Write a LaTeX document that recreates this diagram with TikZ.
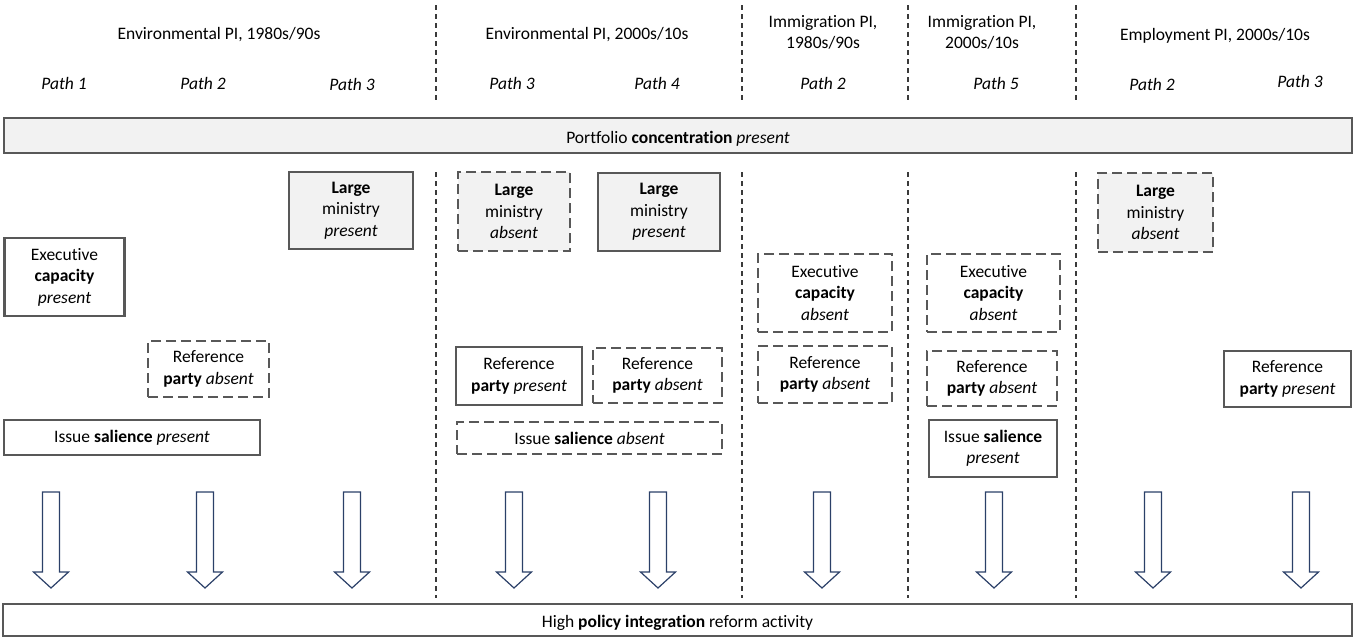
\documentclass[tikz,border=0pt]{standalone}
\usepackage{fontspec}
\setmainfont{Carlito}[Ligatures=NoCommon]
\definecolor{boxgray}{HTML}{585858}
\definecolor{fillgray}{HTML}{F2F2F2}
\definecolor{sepgray}{HTML}{3A3A3A}
\definecolor{arrownavy}{HTML}{2B4068}
\newcommand{\barline}[1]{\raisebox{-3.5pt}[12pt][4pt]{#1}}
\begin{document}
\begin{tikzpicture}[x=1pt,y=-1pt,
  every node/.style={font=\fontsize{17.5}{21.5}\selectfont, align=center, inner sep=0pt, text=black},
  solidbox/.style={draw=boxgray, line width=2.9pt, fill=white},
  dashbox/.style={draw=boxgray, line width=2.9pt, fill=white, dash pattern=on 10pt off 5pt},
  shaded/.style={fill=fillgray},
  separator/.style={draw=sepgray, line width=1.4pt, dash pattern=on 5pt off 4pt},
  blockarrow/.style={draw=arrownavy, line width=1.2pt, fill=white, line join=miter}]
\useasboundingbox (0,0) rectangle (1354,637);
\clip (0,0) rectangle (1354,637);

% group headings
\node (hEnvA) at (219,34.5) {Environmental PI, 1980s/90s};
\node (hEnvB) at (587,34.5) {Environmental PI, 2000s/10s};
\node (hImmA) at (823,32.5) {Immigration PI,\\1980s/90s};
\node (hImmB) at (982,32.5) {Immigration PI,\\2000s/10s};
\node (hEmp)  at (1215,35.5) {Employment PI, 2000s/10s};

% path labels
\node (p1) at (64,83)   {\itshape Path 1};
\node (p2) at (203,83)  {\itshape Path 2};
\node (p3) at (352,84)  {\itshape Path 3};
\node (p4) at (512,83)  {\itshape Path 3};
\node (p5) at (657,83)  {\itshape Path 4};
\node (p6) at (823,83)  {\itshape Path 2};
\node (p7) at (996,83)  {\itshape Path 5};
\node (p8) at (1152,84) {\itshape Path 2};
\node (p9) at (1300,81) {\itshape Path 3};

% column separators
\foreach \sx in {436,742,908,1076} {
  \draw[separator] (\sx,5) -- (\sx,100);
  \draw[separator] (\sx,172) -- (\sx,598);
}

% shared condition bar
\node[solidbox, shaded, minimum width=1348, minimum height=35] (conc) at (678,135.5)
  {\barline{Portfolio \textbf{concentration} \textit{present}}};

% Environmental PI, 1980s/90s
\node[solidbox, shaded, minimum width=124, minimum height=77] (lm1) at (351,210.5)
  {\textbf{Large}\\ministry\\\textit{present}};
\node[solidbox, minimum width=120, minimum height=78] (ec1) at (64.5,277)
  {Executive\\\textbf{capacity}\\\textit{present}};
\node[dashbox, minimum width=121, minimum height=56] (rp1) at (208.5,369)
  {Reference\\\textbf{party} \textit{absent}};
\node[solidbox, minimum width=256, minimum height=35] (is1) at (132,437.5)
  {Issue \textbf{salience} \textit{present}};

% Environmental PI, 2000s/10s
\node[dashbox, shaded, minimum width=112, minimum height=79] (lm2) at (514,211.5)
  {\textbf{Large}\\ministry\\\textit{absent}};
\node[solidbox, shaded, minimum width=122, minimum height=78] (lm3) at (659,212)
  {\textbf{Large}\\ministry\\\textit{present}};
\node[solidbox, minimum width=126, minimum height=58] (rp2) at (519,376)
  {Reference\\\textbf{party} \textit{present}};
\node[dashbox, minimum width=129, minimum height=55] (rp3) at (657.5,375.5)
  {Reference\\\textbf{party} \textit{absent}};
\node[dashbox, minimum width=265, minimum height=32] (is2) at (589.5,438)
  {Issue \textbf{salience} \textit{absent}};

% Immigration PI, 1980s/90s
\node[dashbox, minimum width=134, minimum height=78] (ec2) at (825,293)
  {Executive\\\textbf{capacity}\\\textit{absent}};
\node[dashbox, minimum width=134, minimum height=57] (rp4) at (825,374.5)
  {Reference\\\textbf{party} \textit{absent}};

% Immigration PI, 2000s/10s
\node[dashbox, minimum width=133, minimum height=78] (ec3) at (993.5,293)
  {Executive\\\textbf{capacity}\\\textit{absent}};
\node[dashbox, minimum width=130, minimum height=55] (rp5) at (992,378.5)
  {Reference\\\textbf{party} \textit{absent}};
\node[solidbox, minimum width=128, minimum height=57] (is3) at (993,448.5)
  {Issue \textbf{salience}\\\textit{present}};

% Employment PI, 2000s/10s
\node[dashbox, shaded, minimum width=115, minimum height=79] (lm4) at (1155.5,212.5)
  {\textbf{Large}\\ministry\\\textit{absent}};
\node[solidbox, minimum width=127, minimum height=56] (rp6) at (1287.5,379)
  {Reference\\\textbf{party} \textit{present}};

% outcome bar
\node[solidbox, minimum width=1349, minimum height=32] (outcome) at (677.5,620)
  {\barline{High \textbf{policy integration} reform activity}};

% block arrows leading to the outcome
\foreach \ax in {51,205,352,514,658,822,994,1153,1301} {
  \draw[blockarrow] (\ax-8.5,492) -- (\ax+8.5,492) -- (\ax+8.5,572) -- (\ax+17.5,572)
    -- (\ax,588) -- (\ax-17.5,572) -- (\ax-8.5,572) -- cycle;
}
\end{tikzpicture}
\end{document}
